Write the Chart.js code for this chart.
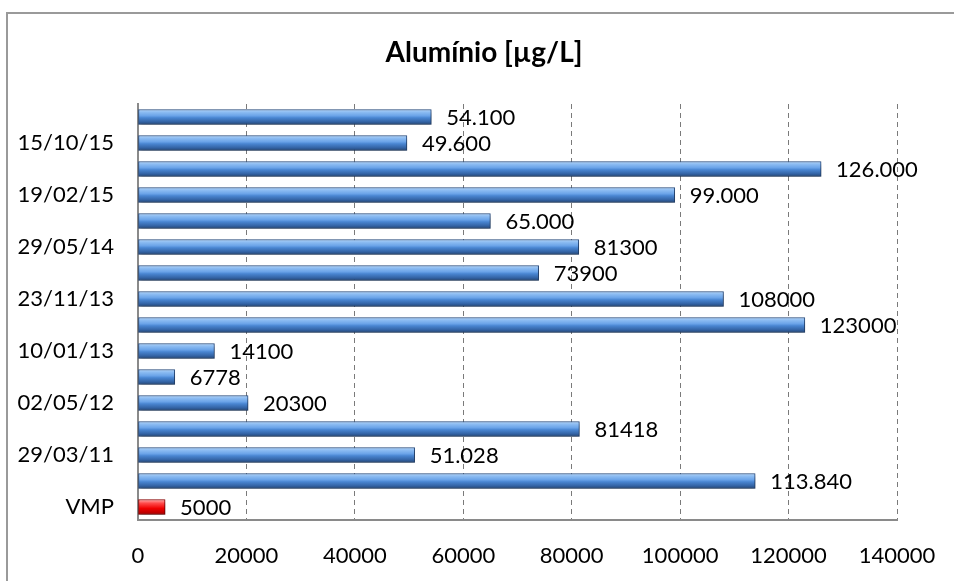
<!DOCTYPE html>
<html>
<head>
<meta charset="utf-8">
<script src="https://cdn.jsdelivr.net/npm/chart.js@4/dist/chart.umd.min.js"></script>
<style>
  html, body { margin: 0; padding: 0; background: #ffffff; overflow: hidden; width: 954px; height: 581px; }
  #frame { position: absolute; left: 6px; top: 12px; width: 948px; height: 569px;
           border-left: 2px solid #9a9a9a; border-top: 2px solid #9a9a9a; box-sizing: border-box; }
  #wrap { position: absolute; left: 0; top: 0; width: 968px; height: 581px; }
</style>
</head>
<body>
<div id="frame"></div>
<div id="wrap"><canvas id="chart" width="968" height="581"></canvas></div>
<script>
// Sampling dates (top to bottom); only every other one carries a label
const categories = ['', '15/10/15', '', '19/02/15', '', '29/05/14', '', '23/11/13',
                    '', '10/01/13', '', '02/05/12', '', '29/03/11', '', 'VMP'];
// Aluminium concentration, µg/L
const values = [54100, 49600, 126000, 99000, 65000, 81300, 73900, 108000,
                123000, 14100, 6778, 20300, 81418, 51028, 113840, 5000];
// Value labels as written next to each bar
const valueLabels = ['54.100', '49.600', '126.000', '99.000', '65.000', '81300', '73900', '108000',
                     '123000', '14100', '6778', '20300', '81418', '51.028', '113.840', '5000'];
const xTicks = [0, 20000, 40000, 60000, 80000, 100000, 120000, 140000];

const FONT = 'Lato, Calibri, "Liberation Sans", sans-serif';

// Cylinder-like shading across the bar thickness
function barFill(context) {
  const isLimit = categories[context.dataIndex] === 'VMP';
  const chart = context.chart;
  const yScale = chart.scales.y;
  const yc = yScale ? yScale.getPixelForValue(context.dataIndex) : NaN;
  if (!isFinite(yc)) return isLimit ? '#ff2020' : '#4f88d0';
  const h = 15;
  const g = chart.ctx.createLinearGradient(0, yc - h / 2, 0, yc + h / 2);
  if (isLimit) {
    g.addColorStop(0, '#ffb0b0');
    g.addColorStop(0.25, '#ff4a4a');
    g.addColorStop(0.6, '#ee0000');
    g.addColorStop(1, '#a80000');
  } else {
    g.addColorStop(0, '#b4d4f7');
    g.addColorStop(0.18, '#8cbcf2');
    g.addColorStop(0.42, '#6aa3e8');
    g.addColorStop(0.55, '#4a86d2');
    g.addColorStop(0.8, '#3566a8');
    g.addColorStop(1, '#23477a');
  }
  return g;
}

// Title is centred on the whole frame, which is wider than the plot's left margin
const titleOffset = {
  id: 'titleOffset',
  afterLayout(chart) {
    if (chart.titleBlock) chart.titleBlock.left = 71;
  }
};

const shadowPlugin = {
  id: 'barShadow',
  beforeDatasetsDraw(chart) {
    const ctx = chart.ctx;
    ctx.save();
    ctx.shadowColor = 'rgba(0,0,0,0.35)';
    ctx.shadowBlur = 4;
    ctx.shadowOffsetX = 1;
    ctx.shadowOffsetY = 3;
  },
  afterDatasetsDraw(chart) {
    chart.ctx.restore();
  }
};

const valueLabelPlugin = {
  id: 'valueLabels',
  afterDraw(chart) {
    const ctx = chart.ctx;
    const meta = chart.getDatasetMeta(0);
    ctx.save();
    ctx.font = '22px ' + FONT;
    ctx.fillStyle = '#000000';
    ctx.textAlign = 'left';
    ctx.textBaseline = 'middle';
    meta.data.forEach((bar, i) => {
      ctx.fillText(valueLabels[i], bar.x + 15, bar.y + 1);
    });
    ctx.restore();
  }
};

new Chart(document.getElementById('chart'), {
  type: 'bar',
  data: {
    labels: categories,
    datasets: [{
      data: values,
      backgroundColor: barFill,
      borderColor: (c) => categories[c.dataIndex] === 'VMP' ? '#8a0000' : '#2a4d80',
      borderWidth: 1,
      borderSkipped: false,
      barThickness: 15
    }]
  },
  options: {
    indexAxis: 'y',
    responsive: false,
    animation: false,
    devicePixelRatio: 1,
    layout: { padding: { left: 0, right: 71, top: 0, bottom: 0 } },
    plugins: {
      legend: { display: false },
      tooltip: { enabled: false },
      title: {
        display: true,
        text: 'Alumínio [µg/L]',
        color: '#000000',
        font: { family: FONT, size: 28, weight: 'bold', lineHeight: 1.2 },
        padding: { top: 36, bottom: 34.4 }
      }
    },
    scales: {
      x: {
        min: 0,
        max: 140000,
        afterBuildTicks(scale) { scale.ticks = xTicks.map(v => ({ value: v })); },
        afterFit(scale) { scale.height = 61; },
        ticks: {
          color: '#000000',
          font: { family: FONT, size: 22 },
          padding: 23,
          maxRotation: 0,
          autoSkip: false,
          callback: (v) => String(v)
        },
        grid: {
          drawTicks: false,
          color: (c) => c.index === 0 ? 'rgba(0,0,0,0)' : '#7a7a7a',
          lineWidth: 1
        },
        border: { display: true, color: '#8a8a8a', width: 2, dash: [5, 4] }
      },
      y: {
        afterFit(scale) { scale.width = 138; },
        ticks: {
          color: '#000000',
          font: { family: FONT, size: 22 },
          padding: 24,
          autoSkip: false
        },
        grid: { display: false, drawTicks: false },
        border: { display: true, color: '#8a8a8a', width: 2 }
      }
    }
  },
  plugins: [titleOffset, shadowPlugin, valueLabelPlugin]
});
</script>
</body>
</html>
